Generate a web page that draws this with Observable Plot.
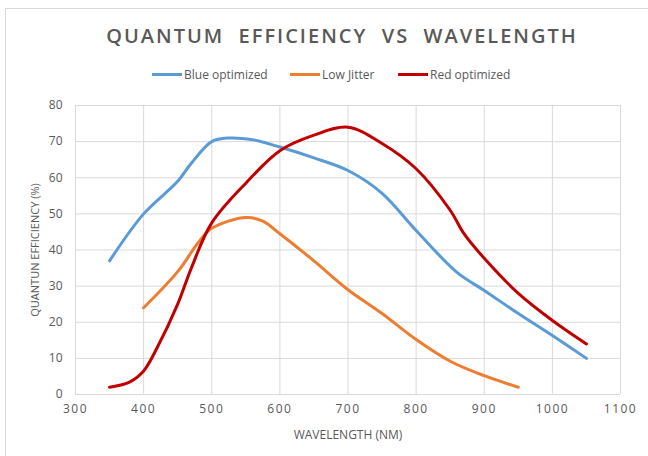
<!DOCTYPE html>
<html>
<head>
<meta charset="utf-8">
<script src="https://cdn.jsdelivr.net/npm/d3@7"></script>
<script src="https://cdn.jsdelivr.net/npm/@observablehq/plot@0.6"></script>
<style>
  html, body { margin: 0; padding: 0; background: #fff; }
  #wrap { position: relative; width: 648px; height: 456px; overflow: hidden; font-family: "Open Sans", sans-serif; }
  #frame { position: absolute; left: 5px; top: 8px; width: 700px; height: 500px; border-left: 1px solid #d9d9d9; border-top: 1px solid #d9d9d9; }
  #title { position: absolute; left: 0; top: 22px; width: 684px; text-align: center; font-size: 20px; font-weight: 600; letter-spacing: 2px; color: #595959; }
  #legend { position: absolute; top: 66px; left: 0; width: 648px; height: 18px; font-size: 12px; color: #595959; }
  .li { position: absolute; display: flex; align-items: center; white-space: nowrap; }
  .sw { display: inline-block; width: 30px; height: 3px; margin-right: 2px; }
  #chart { position: absolute; left: 0; top: 90px; }
  #chart g[aria-label="x-axis tick label"] text { letter-spacing: 1.5px; }
</style>
</head>
<body>
<div id="wrap">
  <div id="frame"></div>
  <div id="title">QUANTUM&nbsp; EFFICIENCY&nbsp; VS&nbsp; WAVELENGTH</div>
  <div id="legend"></div>
  <div id="chart"></div>
</div>
<script>
const seriesNames = ["Blue optimized", "Low Jitter", "Red optimized"];
const seriesColors = ["#5b9bd5", "#ed7d31", "#c00000"];

const blueWl = [350, 400, 450, 470, 500, 525, 560, 600, 650, 700, 750, 800, 860, 900, 950, 1000, 1050];
const blueQe = [37, 50, 59, 64, 70, 71, 70.5, 68.5, 65.5, 62, 55.7, 45.4, 33.8, 28.8, 22.4, 16.3, 10];

const jitterWl = [400, 450, 480, 500, 550, 575, 600, 650, 700, 750, 800, 850, 900, 950];
const jitterQe = [24, 34, 42, 46, 49, 48, 44.5, 37, 29, 22.4, 15.2, 9.2, 5.2, 2];

const redWl = [350, 380, 400, 420, 450, 470, 500, 550, 600, 650, 700, 750, 800, 850, 870, 900, 950, 1000, 1050];
const redQe = [2, 3.5, 6.5, 13, 25, 35, 47.5, 58.5, 67.5, 71.8, 74, 69.5, 62.5, 51, 44.6, 37.7, 28, 20.5, 14];

const xTicks = [300, 400, 500, 600, 700, 800, 900, 1000, 1100];
const yTicks = [0, 10, 20, 30, 40, 50, 60, 70, 80];

const rows = [];
[[blueWl, blueQe], [jitterWl, jitterQe], [redWl, redQe]].forEach(([w, q], i) => {
  w.forEach((x, j) => rows.push({series: seriesNames[i], wl: x, qe: q[j]}));
});

// legend
const legendX = [152, 290, 398];
const legend = document.getElementById("legend");
seriesNames.forEach((n, i) => {
  const d = document.createElement("div");
  d.className = "li";
  d.style.left = legendX[i] + "px";
  d.innerHTML = `<span class="sw" style="background:${seriesColors[i]}"></span><span>${n}</span>`;
  legend.appendChild(d);
});

const chart = Plot.plot({
  width: 648,
  height: 366,
  marginTop: 15,
  marginLeft: 75,
  marginRight: 28,
  marginBottom: 62,
  style: {fontFamily: "Open Sans, sans-serif", fontSize: "12px", color: "#595959", background: "transparent"},
  x: {domain: [300, 1100]},
  y: {domain: [0, 80]},
  color: {domain: seriesNames, range: seriesColors},
  marks: [
    Plot.gridX(xTicks, {stroke: "#d9d9d9", strokeOpacity: 1}),
    Plot.gridY(yTicks, {stroke: "#d9d9d9", strokeOpacity: 1}),
    Plot.ruleY([0], {stroke: "#d9d9d9"}),
    Plot.line(rows, {x: "wl", y: "qe", z: "series", stroke: "series", strokeWidth: 3, curve: "catmull-rom"}),
    Plot.axisX(xTicks, {tickSize: 0, tickPadding: 10, tickFormat: d => String(d), label: "WAVELENGTH (NM)", labelAnchor: "center", labelArrow: "none", labelOffset: 44, fill: "#595959"}),
    Plot.axisY(yTicks, {tickSize: 0, tickPadding: 13, tickFormat: d => String(d), label: null, fill: "#595959"}),
    Plot.text(["QUANTUN EFFICIENCY (%)"], {frameAnchor: "left", textAnchor: "middle", rotate: -90, dx: -40, fontSize: 11, fill: "#595959"})
  ]
});
document.getElementById("chart").appendChild(chart);
</script>
</body>
</html>
